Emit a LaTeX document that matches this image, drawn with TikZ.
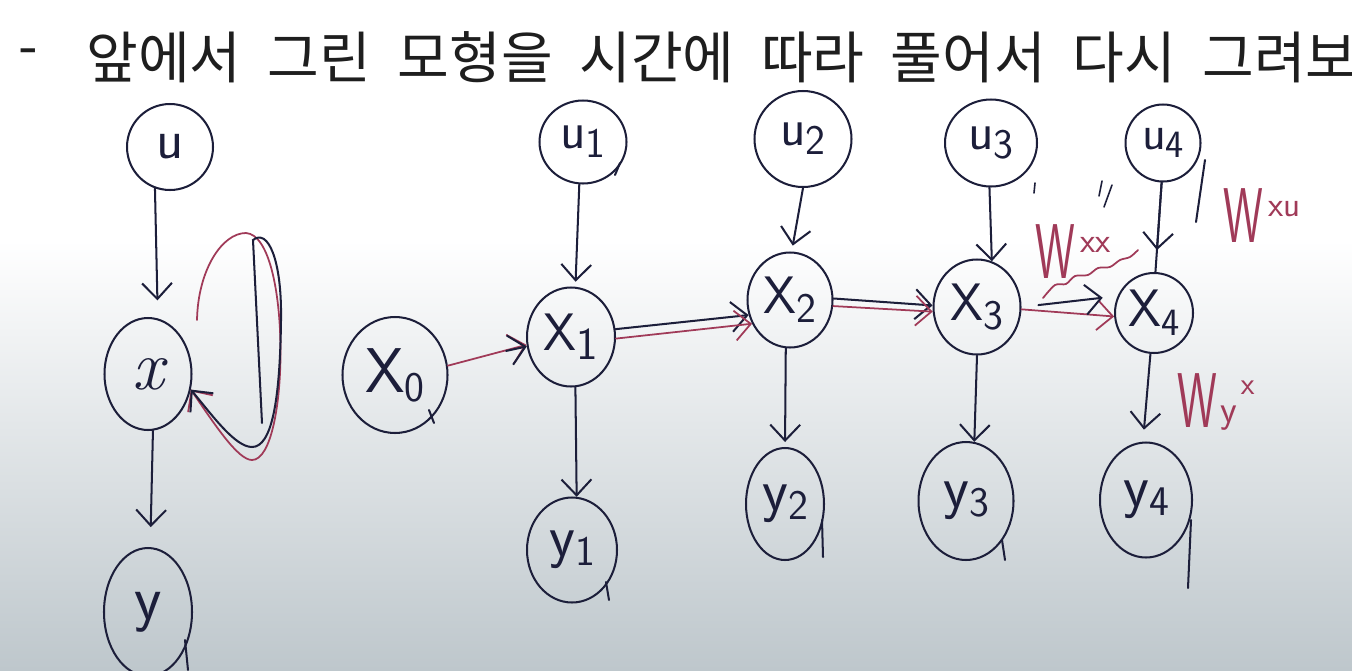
\documentclass[tikz,border=0pt]{standalone}
\usepackage{fontspec}
\newfontfamily\kr{Noto Sans CJK KR}
\usetikzlibrary{arrows.meta,shapes.geometric,calc}
\definecolor{ink}{RGB}{28,30,58}
\definecolor{rink}{RGB}{160,58,88}
\definecolor{bgbot}{RGB}{190,199,204}
\definecolor{bgmid}{RGB}{224,232,235}
\definecolor{titlec}{RGB}{30,30,30}
\newcommand{\wsp}{\hspace{0.47em}}
\newcommand{\nlab}[4]{{\fontsize{#1}{#1}\selectfont #2}\raisebox{-5pt}{\fontsize{#3}{#3}\selectfont #4}}
\newcommand{\wlab}[1]{\scalebox{0.75}[1.3]{\fontsize{34}{34}\selectfont W}\hspace{3pt}\raisebox{15pt}{\fontsize{20}{20}\selectfont #1}}
\newcommand{\wlabyx}{\scalebox{0.75}[1.3]{\fontsize{34}{34}\selectfont W}\hspace{2pt}\raisebox{3pt}{\fontsize{22}{22}\selectfont y}\hspace{2pt}\raisebox{19pt}{\fontsize{18}{18}\selectfont x}}
\begin{document}
\begin{tikzpicture}[x=0.02cm,y=-0.02cm,
  nd/.style={draw=ink, line width=1.15pt, ellipse, inner sep=0pt, text=ink, font=\sffamily},
  esz/.style 2 args={minimum width=#1*0.02cm, minimum height=#2*0.02cm},
  ln/.style={draw=ink, line width=1.15pt, line cap=round},
  rl/.style={draw=rink, line width=1pt, line cap=round},
  arr/.style={-{Straight Barb[length=9pt,width=17pt]}},
  wl/.style={text=rink, font=\sffamily, inner sep=0pt},
]
\useasboundingbox (0,0) rectangle (1352,670);
\fill[white] (0,0) rectangle (1352,670);
\shade[top color=white, middle color=bgmid, bottom color=bgbot] (0,240) rectangle (1352,670);

% title
\node[text=titlec, font=\kr\fontsize{32}{32}\selectfont, inner sep=0pt] (dash) at (28,58) {-};
\node[text=titlec, font=\kr\fontsize{32}{32}\selectfont, anchor=base west, inner sep=0pt] (title) at (86,78)
  {앞에서\wsp 그린\wsp 모형을\wsp 시간에\wsp 따라\wsp 풀어서\wsp 다시\wsp 그려보};

% left model
\node[nd, esz={86}{86}] (u) at (170,147) {\fontsize{32}{32}\selectfont u};
\node[nd, esz={87}{112}] (x) at (148,374) {\fontsize{40}{40}\selectfont\rmfamily\itshape x};
\node[nd, esz={88}{128}] (y) at (148,612) {\fontsize{36}{36}\selectfont y};

% unrolled
\node[nd, esz={105}{116}] (X0) at (395,375) {\nlab{36}{X}{24}{0}};
\node[nd, esz={87}{83}] (u1) at (583,142) {\nlab{30}{u}{24}{1}};
\node[nd, esz={88}{99}] (X1) at (571,337) {\nlab{30}{X}{26}{1}};
\node[nd, esz={90}{105}] (y1) at (572,550) {\nlab{34}{y}{24}{1}};
\node[nd, esz={97}{96}] (u2) at (803,139) {\nlab{30}{u}{24}{2}};
\node[nd, esz={85}{95}] (X2) at (790,300) {\nlab{30}{X}{24}{2}};
\node[nd, esz={78}{112}] (y2) at (785,504) {\nlab{34}{y}{24}{2}};
\node[nd, esz={92}{87}] (u3) at (991,143) {\nlab{30}{u}{24}{3}};
\node[nd, esz={87}{95}] (X3) at (977,307) {\nlab{30}{X}{24}{3}};
\node[nd, esz={95}{118}] (y3) at (966,501) {\nlab{34}{y}{24}{3}};
\node[nd, esz={75}{77}] (u4) at (1163,143) {\nlab{28}{u}{22}{4}};
\node[nd, esz={78}{80}] (X4) at (1154,313) {\nlab{30}{X}{22}{4}};
\node[nd, esz={92}{115}] (y4) at (1146,500) {\nlab{34}{y}{24}{4}};

% circle tails
\draw[ln] (1205,160) -- (1196,222);
\draw[ln] (1191,520) -- (1188,588);
\draw[ln] (185,640) -- (188,670);
\draw[ln] (429,410) -- (434,423);
\draw[ln] (606,582) -- (609,600);
\draw[ln] (822,520) -- (823,557);
\draw[ln] (1002,540) -- (1005,560);
\draw[ln] (620,163) -- (615,175);

% left arrows
\draw[ln,arr,shorten >=0.36cm] (u.250) -- (x.80);
\draw[ln,arr,shorten >=0.4cm] (x.275) -- (y.88);
\coordinate (lpA) at (262,423);
\coordinate (lpB) at (197,320);
\draw[rl,arr] (lpB) .. controls (198,270) and (222,233) .. (246,233) .. controls (292,236) and (290,460) .. (252,460) .. controls (238,460) and (215,425) .. (x.340);
\draw[ln,arr] (lpA) -- (253,240) .. controls (268,228) and (282,260) .. (281,320) .. controls (280,400) and (272,447) .. (252,447) .. controls (235,447) and (212,415) .. (x.340);

% vertical arrows
\draw[ln,arr,shorten >=0.1cm] (u1.265) -- (X1.85);
\draw[ln,arr] (X1.275) -- (y1.85);
\draw[ln,arr,shorten >=0.12cm] (u2.270) -- (X2.88);
\draw[ln,arr,shorten >=0.1cm] (X2.265) -- (y2.90);
\draw[ln,arr] (u3.268) -- (X3.72);
\draw[ln,arr] (X3.270) -- (y3.82);
\draw[ln] (u4.268) -- (X4.88);
\draw[ln,arr,shorten >=0.44cm] (u4.268) -- (X4.88);
\draw[ln,arr,shorten >=0.24cm] (X4.265) -- (y4.93);

% horizontal arrows
\draw[rl,arr] (X0.10) -- (X1.190);
\draw[ln,arr,shorten <=1.2cm] (X0.12) -- (X1.192);
\draw[ln,arr] (X1.10) -- (X2.200);
\draw[rl,arr] (X1.358) -- (X2.212);
\draw[ln,arr] (X2.2) -- (X3.178);
\draw[rl,arr] (X2.352) -- (X3.186);
\draw[rl,arr] (X3.357) -- (X4.185);
\draw[ln,arr,shorten <=0.34cm,shorten >=0.3cm] (X3.0) -- (X4.155);

% weight labels
\draw[rl] plot[smooth] coordinates {(1043,298) (1055,285) (1066,284) (1075,276) (1088,275) (1098,268) (1110,267) (1120,260) (1130,257) (1138,250)};
\node[wl] (wxx) at (1073,252) {\wlab{xx}};
\draw[ln, line width=0.9pt] (1035,183) -- (1034,193);
\draw[ln, line width=0.9pt] (1102,181) -- (1099,196);
\draw[ln, line width=0.9pt] (1112,185) -- (1104,207);
\node[wl] (wxu) at (1262,216) {\wlab{xu}};
\node[wl] (wyx) at (1216,402) {\wlabyx};
\end{tikzpicture}
\end{document}
